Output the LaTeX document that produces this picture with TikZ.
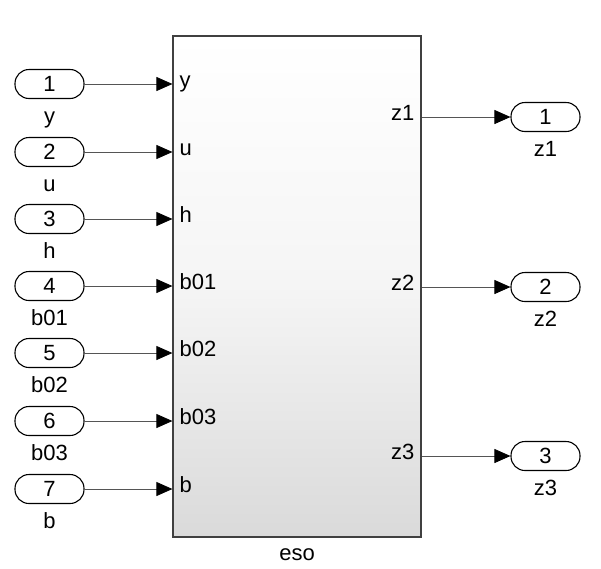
\documentclass[tikz,border=0pt]{standalone}
\usepackage{fontspec}
\setmainfont{Liberation Sans}
\usetikzlibrary{positioning, calc, arrows.meta, shadows}
\definecolor{sigline}{RGB}{85,85,85}
\definecolor{blkgray}{RGB}{218,218,218}

\begin{document}
\begin{tikzpicture}[
        x=1pt, y=-1pt,
        font=\fontsize{22}{26}\selectfont,
        port/.style={rectangle, draw=black, line width=1.1pt, rounded corners=14pt, minimum width=69pt, minimum height=29pt, inner sep=0pt},
        lbl/.style={inner sep=0pt, text height=0.72em, text depth=0pt},
        pin/.style={lbl, anchor=west, inner xsep=7pt},
        pout/.style={lbl, anchor=east, inner xsep=7pt},
        sig/.style={draw=sigline, line width=0.8pt, -{Triangle[length=16pt, width=14pt, color=black]}},
        blk/.style={rectangle, draw=black!75, line width=1.2pt, top color=white, bottom color=blkgray, middle color=black!4, minimum width=248pt, minimum height=501pt, inner sep=0pt,
            drop shadow={shadow xshift=1.4pt, shadow yshift=-1.4pt, fill=black!55, opacity=1}}
    ]
        \useasboundingbox (0,0) rectangle (601,568);

        % Subsystem block
        \node[blk] (ESO) at (297,286.5) {};
        \node[lbl] (ESOname) at (297,557) {eso};

        % Inports
        \node[port] (in1) at (49.5,84) {1};
        \node[port] (in2) at (49.5,152) {2};
        \node[port] (in3) at (49.5,219) {3};
        \node[port] (in4) at (49.5,286) {4};
        \node[port] (in5) at (49.5,353) {5};
        \node[port] (in6) at (49.5,421) {6};
        \node[port] (in7) at (49.5,489) {7};

        \node[lbl] (lin1) at ([yshift=-36pt]in1) {y};
        \node[lbl] (lin2) at ([yshift=-36pt]in2) {u};
        \node[lbl] (lin3) at ([yshift=-36pt]in3) {h};
        \node[lbl] (lin4) at ([yshift=-36pt]in4) {b01};
        \node[lbl] (lin5) at ([yshift=-36pt]in5) {b02};
        \node[lbl] (lin6) at ([yshift=-36pt]in6) {b03};
        \node[lbl] (lin7) at ([yshift=-36pt]in7) {b};

        % Outports
        \node[port] (out1) at (545.5,117) {1};
        \node[port] (out2) at (545.5,287) {2};
        \node[port] (out3) at (545.5,456) {3};

        \node[lbl] (lout1) at ([yshift=-36pt]out1) {z1};
        \node[lbl] (lout2) at ([yshift=-36pt]out2) {z2};
        \node[lbl] (lout3) at ([yshift=-36pt]out3) {z3};

        % Port labels on the block
        \node[pin] (pY) at (ESO.west |- in1) {y};
        \node[pin] (pU) at (ESO.west |- in2) {u};
        \node[pin] (pH) at (ESO.west |- in3) {h};
        \node[pin] (pB01) at (ESO.west |- in4) {b01};
        \node[pin] (pB02) at (ESO.west |- in5) {b02};
        \node[pin] (pB03) at (ESO.west |- in6) {b03};
        \node[pin] (pB) at (ESO.west |- in7) {b};

        \node[pout] (pZ1) at (ESO.east |- out1) {z1};
        \node[pout] (pZ2) at (ESO.east |- out2) {z2};
        \node[pout] (pZ3) at (ESO.east |- out3) {z3};

        % Signals
        \draw[sig] (in1) -- (pY);
        \draw[sig] (in2) -- (pU);
        \draw[sig] (in3) -- (pH);
        \draw[sig] (in4) -- (pB01);
        \draw[sig] (in5) -- (pB02);
        \draw[sig] (in6) -- (pB03);
        \draw[sig] (in7) -- (pB);
        \draw[sig] (pZ1) -- (out1);
        \draw[sig] (pZ2) -- (out2);
        \draw[sig] (pZ3) -- (out3);
\end{tikzpicture}
\end{document}
